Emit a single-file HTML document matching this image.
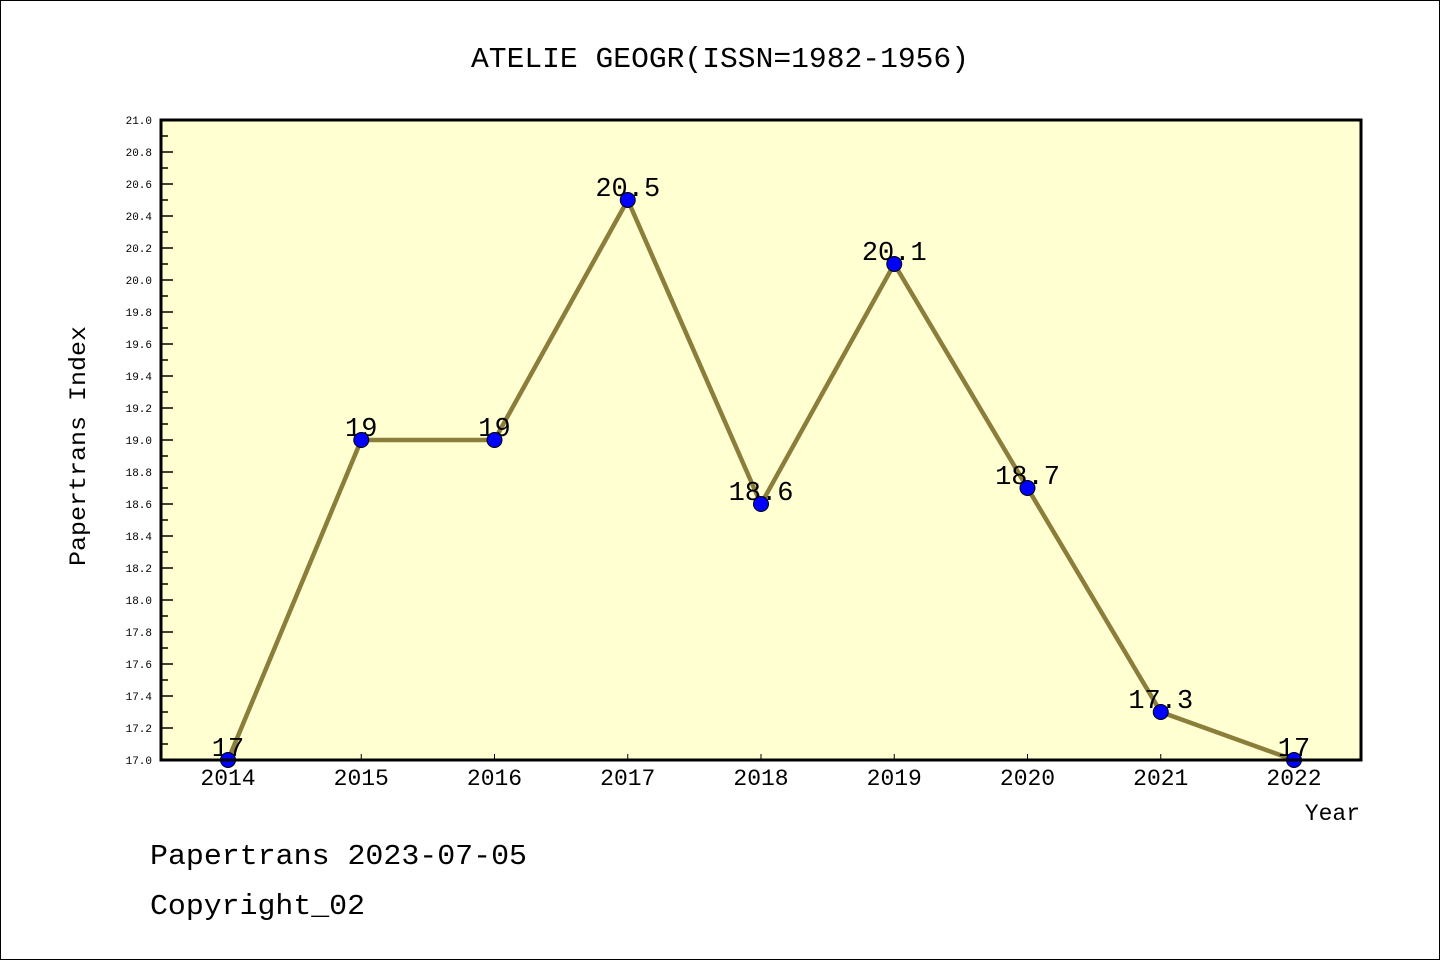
<!DOCTYPE html>
<html><head><meta charset="utf-8"><style>
html,body{margin:0;padding:0;background:#fff;}
svg text{font-family:"Liberation Mono","WenQuanYi Zen Hei",monospace;fill:#000;}
</style></head><body>
<svg id="chart" width="1440" height="960" xmlns="http://www.w3.org/2000/svg">
<rect x="0.5" y="0.5" width="1439" height="959" fill="#fff" stroke="#000"/>
<text x="720" y="67" font-size="29" text-anchor="middle" textLength="498" lengthAdjust="spacingAndGlyphs">ATELIE GEOGR(ISSN=1982-1956)</text>
<rect x="161" y="120" width="1200" height="640" fill="#ffffd2"/>
<g id="yaxis"></g>
<g id="xaxis"></g>
<g id="series"></g>
<rect x="161" y="120" width="1200" height="640" fill="none" stroke="#000" stroke-width="3"/>
<text transform="translate(85,446) rotate(-90)" font-size="23" text-anchor="middle" textLength="240" lengthAdjust="spacingAndGlyphs">Papertrans Index</text>
<text x="1360" y="820" font-size="23" text-anchor="end">Year</text>
<text x="150" y="864" font-size="29" textLength="377" lengthAdjust="spacingAndGlyphs">Papertrans 2023-07-05</text>
<text x="150" y="914" font-size="29" textLength="215" lengthAdjust="spacingAndGlyphs">Copyright_02</text>
</svg>
<script>
const years = [2014,2015,2016,2017,2018,2019,2020,2021,2022];
const values = [17,19,19,20.5,18.6,20.1,18.7,17.3,17];
const valueLabels = ["17","19","19","20.5","18.6","20.1","18.7","17.3","17"];
const yMin = 17, yMax = 21;
const NS = "http://www.w3.org/2000/svg";
const x0 = 228, dx = (1294-228)/8;
function xs(i){ return x0 + i*dx; }
function ys(v){ return 760 - (v - yMin)/(yMax - yMin)*640; }
function mk(tag, attrs, parent){ const e=document.createElementNS(NS,tag); for(const k in attrs) e.setAttribute(k,attrs[k]); parent.appendChild(e); return e; }
const ya=document.getElementById('yaxis'), xa=document.getElementById('xaxis'), sg=document.getElementById('series');
for(let k=0;k<=40;k++){
  const v=yMin+k*0.1, y=ys(v), major=k%2===0;
  const t=mk('line',{x1:161,x2:161+(major?12:7),y1:y,y2:y,stroke:'#000','stroke-width':1.5},ya);
  
  
  if(major){
    const l=mk('text',{x:152,y:y+4,'font-size':11,'text-anchor':'end'},ya);
    
    
    l.setAttribute('font-family','"DejaVu Sans",sans-serif');
    l.textContent=v.toFixed(1);
  }
}
years.forEach((yr,i)=>{
  const x=xs(i);
  const t=mk('line',{x1:x,x2:x,y1:760,y2:754,stroke:'#000','stroke-width':1},xa);
  
  
  const l=mk('text',{x:x,y:785,'font-size':23,'text-anchor':'middle'},xa);
  
  
  l.textContent=yr;
});
const pts=values.map((v,i)=>xs(i)+','+ys(v)).join(' ');
const line=mk('polyline',{points:pts,fill:'none',stroke:'#8b7d3a','stroke-width':4.5,'stroke-linejoin':'round'},sg);


values.forEach((v,i)=>{
  const l=mk('text',{x:xs(i),y:ys(v)-4,'font-size':27,'text-anchor':'middle'},sg);
  
  
  l.textContent=valueLabels[i];
});
values.forEach((v,i)=>{
  const c=mk('circle',{cx:xs(i),cy:ys(v),r:7.5,fill:'#0000ff',stroke:'#000','stroke-width':1},sg);
  
  
});
</script>
</body></html>
